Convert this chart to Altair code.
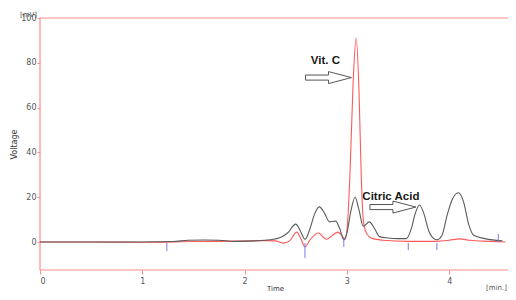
import altair as alt
import pandas as pd

# Red trace (Vit. C standard)
red_x = [0.0, 0.5, 1.0, 1.5, 2.0, 2.2, 2.3, 2.38, 2.44, 2.51, 2.55, 2.59, 2.64, 2.72, 2.80, 2.86, 2.91, 2.95, 2.98,
         3.00, 3.03, 3.06, 3.09, 3.12, 3.14, 3.16, 3.19, 3.25, 3.35, 3.6, 3.88, 4.0, 4.1, 4.2, 4.4, 4.55]
red_y = [0, 0, -0.1, 0.2, 0.4, 0.6, 0.5, -0.5, 0.5, 4.4, 1.5, -2.2, 1, 4, 1.2, 3, 4.4, 3, 1,
         5, 30, 70, 91, 65, 30, 10, 4, 1.5, 0.8, 0.3, 0.3, 0.8, 1.4, 0.8, 0.3, 0]

# Black trace (sample)
blk_x = [0.0, 0.5, 1.0, 1.3, 1.45, 1.6, 1.75, 1.9, 2.1, 2.25, 2.35, 2.42, 2.50, 2.55, 2.59, 2.64, 2.68, 2.73, 2.78,
         2.83, 2.89, 2.93, 2.97, 3.00, 3.04, 3.08, 3.12, 3.16, 3.22, 3.27, 3.32, 3.4, 3.5, 3.58, 3.63, 3.67, 3.71,
         3.75, 3.80, 3.85, 3.88, 3.93, 3.98, 4.03, 4.09, 4.14, 4.19, 4.24, 4.35, 4.52]
blk_y = [0, 0, 0, 0.2, 0.8, 0.9, 0.8, 0.3, 0.5, 1, 2, 4, 8, 4.5, 1.2, 6, 12, 15.7, 13,
         9, 9.3, 6, 1, 4, 14, 20, 14, 7, 9, 6, 2.4, 1.8, 1.5, 1.5, 6, 13, 16.5,
         13, 5, 1.5, 1, 3, 12, 19, 22, 18, 8, 3, 1.5, 0.5]

# Integration markers
mark_x = [1.24, 2.59, 2.97, 3.60, 3.88, 4.48]
mark_top = [-0.4, -0.4, 2.2, -0.4, -0.4, 3.6]
mark_bot = [-4.0, -7.1, -2.2, -3.6, -3.6, 0.0]

# Annotations
ann_text = ["Vit. C", "Citric Acid"]
ann_tx = [2.79, 3.43]
ann_ty = [81, 20]
ann_ax = [2.82, 3.45]
ann_ay = [73.4, 15.6]

df = pd.concat([
    pd.DataFrame({"t": red_x, "v": red_y, "s": "std"}),
    pd.DataFrame({"t": blk_x, "v": blk_y, "s": "sample"}),
])
marks = pd.DataFrame({"t": mark_x, "a": mark_top, "b": mark_bot})
ann = pd.DataFrame({"label": ann_text, "tx": ann_tx, "ty": ann_ty, "ax": ann_ax, "ay": ann_ay})

FRAME = "#ff8a8a"
LBL = "#555555"
W, H = 468, 252

xscale = alt.Scale(domain=[0, 4.575], nice=False, zero=False)
yscale = alt.Scale(domain=[-12.5, 100], nice=False, zero=False)

xaxis = alt.Axis(values=[0, 1, 2, 3, 4], format="d", domain=False, grid=False, tickColor=FRAME,
                 tickSize=4, labelFontSize=8, labelColor=LBL, labelPadding=3, labelFont="DejaVu Sans",
                 title="Time", titleFontSize=7, titleFont="DejaVu Sans", titleColor="#333", titleFontWeight="normal",
                 titleX=235, titleY=21, titleBaseline="bottom")
yaxis = alt.Axis(values=[0, 20, 40, 60, 80, 100], format="d", domain=False, grid=False, tickColor=FRAME,
                 tickSize=3, labelFontSize=8, labelColor=LBL, labelPadding=1, labelFont="DejaVu Sans",
                 title="Voltage", titleFontSize=8, titleFont="DejaVu Sans", titleColor="#333",
                 titleFontWeight="normal", titleX=-26, titleY=126, titleAngle=-90, titleAlign="center",
                 titleBaseline="middle")

lines = alt.Chart(df).mark_line(interpolate="monotone", strokeWidth=1.1).encode(
    x=alt.X("t:Q", scale=xscale, axis=xaxis),
    y=alt.Y("v:Q", scale=yscale, axis=yaxis),
    color=alt.Color("s:N", scale=alt.Scale(domain=["sample", "std"], range=["#5a5a5a", "#ff5a5a"]), legend=None),
    order=alt.Order("s:N", sort="ascending"),
    detail="s:N",
)

ticks = alt.Chart(marks).mark_rule(color="#7777ee", strokeWidth=1).encode(
    x=alt.X("t:Q", scale=xscale), y=alt.Y("a:Q", scale=yscale), y2="b:Q"
)

arrow = "M -1 -0.11 L 0 -0.11 L 0 -0.26 L 1 0 L 0 0.26 L 0 0.11 L -1 0.11 Z"
arrows = alt.Chart(ann).mark_point(shape=arrow, size=2116, filled=False, fill="white", fillOpacity=1,
                                   stroke="#555555", strokeWidth=1, opacity=1).encode(
    x=alt.X("ax:Q", scale=xscale), y=alt.Y("ay:Q", scale=yscale)
)

texts = alt.Chart(ann).mark_text(font="Liberation Sans", fontWeight="bold", fontSize=11.5, color="#1a1a1a").encode(
    x=alt.X("tx:Q", scale=xscale), y=alt.Y("ty:Q", scale=yscale), text="label:N"
)

# open frame (top, left, bottom) that runs past the right edge
frame_top = alt.Chart().mark_rule(color=FRAME, strokeWidth=1.2).encode(
    x=alt.value(0), x2=alt.value(W + 10), y=alt.value(0))
frame_bot = alt.Chart().mark_rule(color=FRAME, strokeWidth=1.2).encode(
    x=alt.value(0), x2=alt.value(W + 10), y=alt.value(H))
frame_left = alt.Chart().mark_rule(color=FRAME, strokeWidth=1.2).encode(
    x=alt.value(0), y=alt.value(0), y2=alt.value(H))

unit_y = alt.Chart(pd.DataFrame({"u": ["[mV]"]})).mark_text(
    font="DejaVu Sans", fontSize=7, color=LBL, align="right", baseline="bottom"
).encode(x=alt.value(-3), y=alt.value(0), text="u:N")

unit_x = alt.Chart(pd.DataFrame({"u": ["[min.]"]})).mark_text(
    font="DejaVu Sans", fontSize=7, color=LBL, align="right", baseline="bottom"
).encode(x=alt.value(W - 1), y=alt.value(H + 21), text="u:N")

chart = alt.layer(frame_top, frame_bot, frame_left, lines, ticks, arrows, texts, unit_y, unit_x).properties(
    width=W, height=H,
    autosize=alt.AutoSizeParams(type="none"),
    padding={"left": 32, "top": 10, "right": 0, "bottom": 22},
).configure_view(stroke=None)

chart.save("out.html", embed_options={"renderer": "svg", "actions": False})
